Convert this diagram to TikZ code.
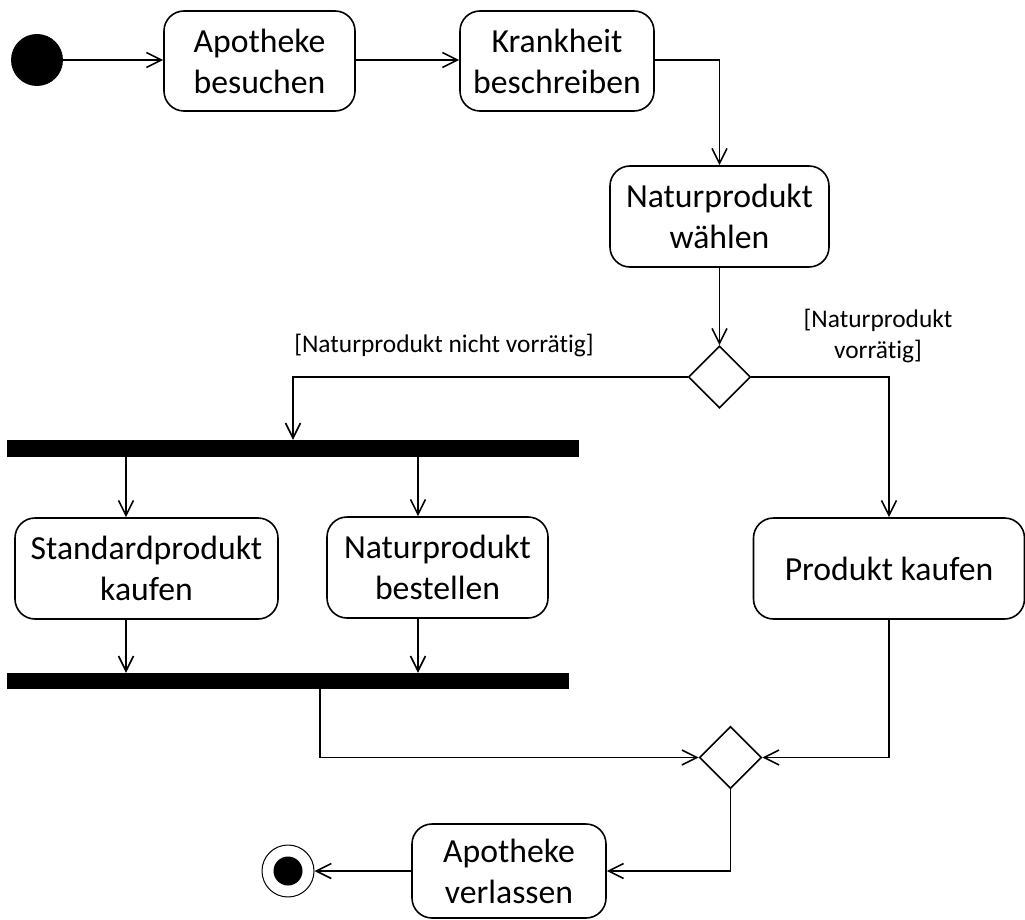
\documentclass[tikz,border=0pt]{standalone}
\usepackage{fontspec}
\setmainfont{Carlito}[Ligatures={NoCommon}]
\usetikzlibrary{arrows.meta,shapes.geometric}
\begin{document}
\begin{tikzpicture}[x=1pt,y=-1pt,
  act/.style={draw, rounded corners=20pt, line width=1.6pt, inner sep=0pt, align=center, font=\fontsize{33.7}{41}\selectfont},
  bar/.style={fill=black, inner sep=0pt},
  dec/.style={draw, diamond, inner sep=0pt, minimum width=62pt, minimum height=62pt, line width=1.6pt},
  arr/.style={line width=1.6pt, -{Straight Barb[length=15pt,width=15pt]}},
  ln/.style={line width=1.6pt},
  lbl/.style={font=\fontsize{25.4}{31}\selectfont, align=center, inner sep=0pt},
]
\useasboundingbox (0,0) rectangle (1025,920);
% nodes
\node[circle, fill=black, minimum size=52pt, inner sep=0pt] (start) at (37,60) {};
\node[act, minimum width=191pt, minimum height=100pt] (a1) at (259.5,61) {Apotheke\\besuchen};
\node[act, minimum width=194pt, minimum height=100pt] (a2) at (557,61) {Krankheit\\beschreiben};
\node[act, minimum width=219pt, minimum height=101pt] (a3) at (719.5,216.5) {Naturprodukt\\wählen};
\node[dec] (d1) at (719.5,377) {};
\node[bar, minimum width=572pt, minimum height=17pt] (fork) at (293,448.5) {};
\node[act, minimum width=263pt, minimum height=101pt] (s) at (146.5,568.5) {Standardprodukt\\kaufen};
\node[act, minimum width=221pt, minimum height=101pt] (n) at (437.5,567.5) {Naturprodukt\\bestellen};
\node[act, minimum width=271pt, minimum height=101pt] (p) at (889,568.5) {Produkt kaufen};
\node[bar, minimum width=562pt, minimum height=16pt] (join) at (288,681) {};
\node[dec] (d2) at (730.5,757.5) {};
\node[act, minimum width=194pt, minimum height=94pt] (av) at (509,871) {Apotheke\\verlassen};
\node[circle, draw, line width=1pt, minimum size=52pt, inner sep=0pt,
  path picture={\fill (path picture bounding box.center) circle (14.5pt);}] (end) at (288,871) {};
% labels
\node[lbl] (l1) at (444,346) {[Naturprodukt nicht vorrätig]};
\node[lbl] (l2) at (878,336) {[Naturprodukt\\vorrätig]};
% helper x positions
\coordinate (xa) at (126,0);
\coordinate (xb) at (418,0);
\coordinate (xc) at (293,0);
\coordinate (xd) at (320,0);
% connectors
\draw[arr] (start) -- (start -| a1.west);
\draw[arr] (a1.east |- start) -- (a2.west |- start);
\draw[arr] (a2.east |- start) -| (a3.north);
\draw[arr] (a3.south) -- (d1.north);
\draw[arr] (d1.west) -| (xc |- fork.north);
\draw[arr] (d1.east) -| (p.north);
\draw[arr] (xa |- fork.south) -- (xa |- s.north);
\draw[arr] (xb |- fork.south) -- (xb |- n.north);
\draw[arr] (xa |- s.south) -- (xa |- join.north);
\draw[arr] (xb |- n.south) -- (xb |- join.north);
\draw[arr] (xd |- join.south) |- (d2.west);
\draw[arr] (p.south) |- (d2.east);
\draw[arr] (d2.south) |- (av.east);
\draw[arr] (av.west) -- (end.east);
\end{tikzpicture}
\end{document}
